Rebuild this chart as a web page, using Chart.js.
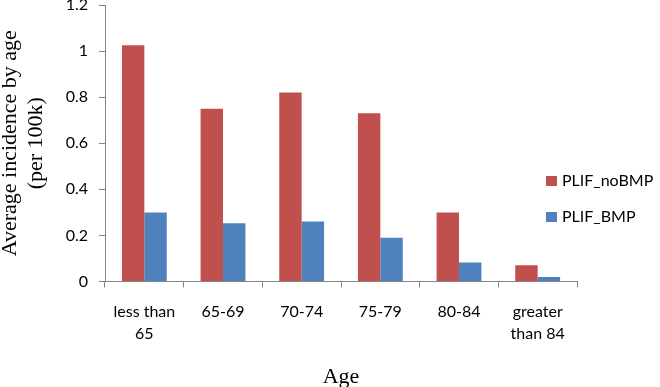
<!DOCTYPE html>
<html>
<head>
<meta charset="utf-8">
<script src="https://cdn.jsdelivr.net/npm/chart.js@4/dist/chart.umd.min.js"></script>
<style>
  html, body { margin: 0; padding: 0; background: #ffffff; }
  #wrap { width: 660px; height: 387px; position: relative; }
</style>
</head>
<body>
<div id="wrap"><canvas id="c" width="660" height="387"></canvas></div>
<script>
const categories = [["less than", "65"], "65-69", "70-74", "75-79", "80-84", ["greater", "than 84"]];
const noBmpValues = [1.025, 0.75, 0.82, 0.73, 0.30, 0.07];
const bmpValues = [0.30, 0.253, 0.26, 0.19, 0.083, 0.019];
const seriesNames = ["PLIF_noBMP", "PLIF_BMP"];
const yTickValues = [0, 0.2, 0.4, 0.6, 0.8, 1, 1.2];
const yTitle = ["Average incidence by age", "(per 100k)"];
const xTitle = "Age";

const RED = "#C0504D";
const BLUE = "#4F81BD";
const AXIS = "#868686";
const TXT = "#000000";

const legendPlugin = {
  id: "customLegend",
  afterDraw(chart) {
    const ctx = chart.ctx;
    ctx.save();
    ctx.font = "16px Lato";
    ctx.textBaseline = "middle";
    ctx.textAlign = "left";
    const ys = [181, 217];
    chart.data.datasets.forEach((ds, i) => {
      ctx.fillStyle = ds.backgroundColor;
      ctx.fillRect(546, ys[i] - 5, 11, 10);
      ctx.fillStyle = TXT;
      ctx.fillText(ds.label, 562, ys[i]);
    });
    ctx.restore();
  }
};

new Chart(document.getElementById("c"), {
  type: "bar",
  data: {
    labels: categories,
    datasets: [
      { label: seriesNames[0], data: noBmpValues, backgroundColor: RED },
      { label: seriesNames[1], data: bmpValues, backgroundColor: BLUE }
    ]
  },
  options: {
    responsive: false,
    animation: false,
    devicePixelRatio: 1,
    layout: { padding: { left: 0, right: 83, top: 5, bottom: 0 } },
    plugins: { legend: { display: false }, tooltip: { enabled: false } },
    datasets: { bar: { categoryPercentage: 0.57, barPercentage: 1.0 } },
    scales: {
      x: {
        grid: { display: true, drawOnChartArea: false, drawTicks: true, tickLength: 6, color: AXIS, offset: true },
        border: { display: true, color: AXIS, width: 1 },
        ticks: { color: TXT, font: { family: "Lato", size: 16, lineHeight: 1.375 }, padding: 13, maxRotation: 0, autoSkip: false },
        title: { display: true, text: xTitle, color: "#000", font: { family: "Liberation Serif", size: 22, lineHeight: 0.85 }, padding: { top: 0, bottom: 0 } },
        afterFit(scale) { scale.height = 105.5; scale.paddingLeft = 0; scale.paddingRight = 0; }
      },
      y: {
        min: 0, max: 1.2,
        afterBuildTicks(scale) { scale.ticks = yTickValues.map(v => ({ value: v })); },
        grid: { display: true, drawOnChartArea: false, drawTicks: true, tickLength: 6, color: AXIS },
        border: { display: true, color: AXIS, width: 1 },
        ticks: { color: TXT, font: { family: "Lato", size: 16 }, padding: 11, callback: (v) => String(v) },
        title: { display: true, text: yTitle, color: "#000", font: { family: "Liberation Serif", size: 22, lineHeight: 1.18 }, padding: { top: -3, bottom: 0 } },
        afterFit(scale) { scale.width = 105; scale.paddingTop = 0; scale.paddingBottom = 0; }
      }
    }
  },
  plugins: [legendPlugin]
});
</script>
</body>
</html>
